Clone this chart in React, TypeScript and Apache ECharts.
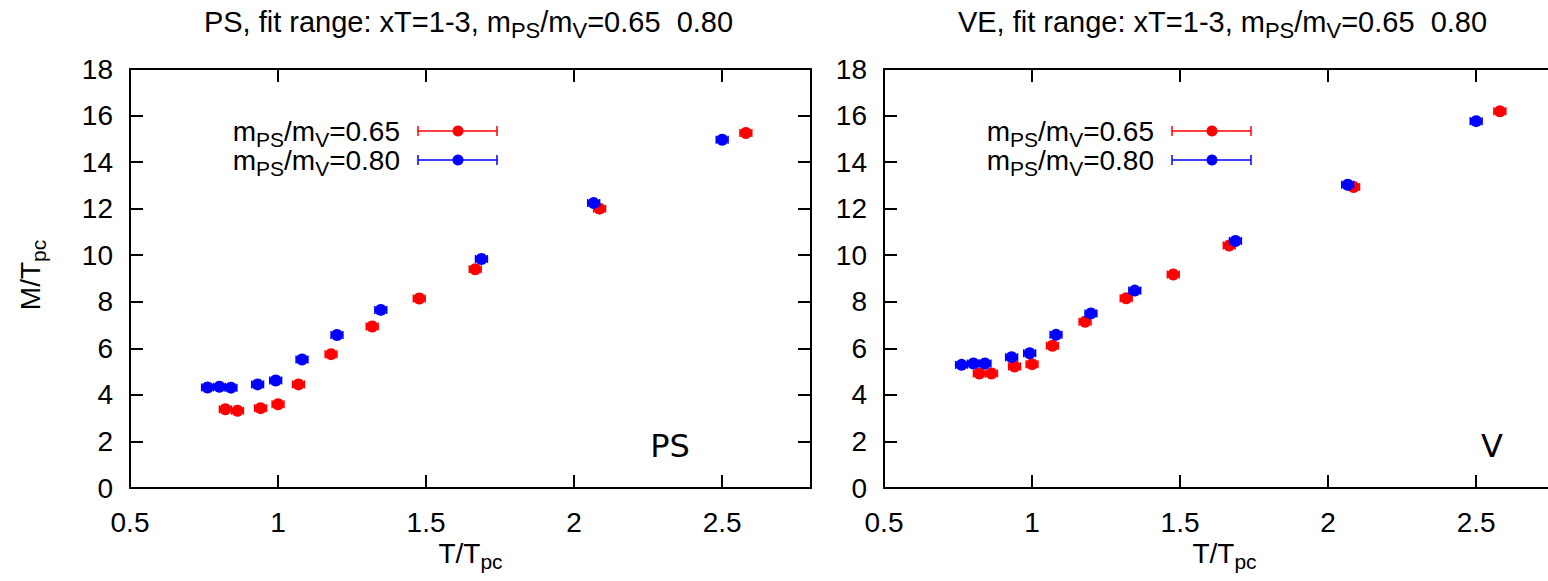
import React, { useEffect, useRef } from "react";
import * as echarts from "echarts";

// temperatures T/Tpc
const T_065 = [0.822, 0.863, 0.941, 1.0, 1.069, 1.179, 1.318, 1.477, 1.666, 2.086, 2.58];
const T_080 = [0.762, 0.802, 0.841, 0.931, 0.992, 1.081, 1.199, 1.347, 1.687, 2.066, 2.5];
// horizontal / vertical error sizes
const TERR_065 = [0.02, 0.02, 0.02, 0.02, 0.02, 0.02, 0.02, 0.02, 0.02, 0.02, 0.02];
const TERR_080 = [0.02, 0.02, 0.02, 0.02, 0.02, 0.02, 0.02, 0.02, 0.02, 0.02, 0.02];
// PS channel M/Tpc
const PS_065 = [3.38, 3.32, 3.43, 3.6, 4.45, 5.75, 6.94, 8.14, 9.4, 12.0, 15.25];
const PS_080 = [4.32, 4.35, 4.31, 4.45, 4.62, 5.52, 6.57, 7.65, 9.84, 12.24, 14.96];
const PSERR_065 = [0.08, 0.08, 0.1, 0.1, 0.08, 0.08, 0.06, 0.06, 0.06, 0.06, 0.06];
const PSERR_080 = [0.05, 0.05, 0.05, 0.05, 0.05, 0.05, 0.05, 0.05, 0.05, 0.05, 0.05];
// V channel M/Tpc
const V_065 = [4.92, 4.92, 5.22, 5.32, 6.11, 7.14, 8.15, 9.17, 10.42, 12.93, 16.18];
const V_080 = [5.29, 5.35, 5.35, 5.62, 5.79, 6.58, 7.5, 8.48, 10.61, 13.03, 15.76];
const VERR_065 = [0.1, 0.1, 0.15, 0.15, 0.1, 0.08, 0.06, 0.06, 0.06, 0.06, 0.06];
const VERR_080 = [0.05, 0.05, 0.05, 0.05, 0.05, 0.05, 0.05, 0.05, 0.05, 0.05, 0.05];

const TITLES = [
  "PS, fit range: xT=1-3, m{s|PS}/m{s|V}=0.65  0.80",
  "VE, fit range: xT=1-3, m{s|PS}/m{s|V}=0.65  0.80",
];
const TAGS = ["PS", "V"];
const LEGEND = ["m{s|PS}/m{s|V}=0.65", "m{s|PS}/m{s|V}=0.80"];
const X_NAME = "T/T{s|pc}";
const Y_NAME = "M/T{s|pc}";

const RED = "#ff0000";
const BLUE = "#0000ff";
const FONT = "'Liberation Sans', Arial, Helvetica, sans-serif";
const FS = 28;
const RICH = { s: { fontSize: 21, fontFamily: FONT, color: "#000", padding: [16, 0, 0, 0] } };
const RICH_T = { s: { fontSize: 22, fontFamily: FONT, color: "#000", padding: [16, 0, 0, 0] } };

const GRID_LEFTS = [130, 884];
const TAG_X = [670, 1492];
const GRID_TOP = 69;
const GRID_W = 681;
const GRID_H = 419;

function build(t: number[], m: number[], te: number[], me: number[]) {
  return t.map((x, i) => [x, m[i], te[i], me[i]]);
}

function errRender(color: string) {
  return (_params: any, api: any) => {
    const x = api.value(0);
    const y = api.value(1);
    const xe = api.value(2);
    const ye = api.value(3);
    const c = api.coord([x, y]);
    const l = api.coord([x - xe, y]);
    const r = api.coord([x + xe, y]);
    const t = api.coord([x, y + ye]);
    const b = api.coord([x, y - ye]);
    const cap = 4;
    const st = { stroke: color, lineWidth: 1.5 };
    return {
      type: "group",
      children: [
        { type: "line", shape: { x1: l[0], y1: c[1], x2: r[0], y2: c[1] }, style: st },
        { type: "line", shape: { x1: l[0], y1: c[1] - cap, x2: l[0], y2: c[1] + cap }, style: st },
        { type: "line", shape: { x1: r[0], y1: c[1] - cap, x2: r[0], y2: c[1] + cap }, style: st },
        { type: "line", shape: { x1: c[0], y1: t[1], x2: c[0], y2: b[1] }, style: st },
        { type: "line", shape: { x1: c[0] - cap, y1: t[1], x2: c[0] + cap, y2: t[1] }, style: st },
        { type: "line", shape: { x1: c[0] - cap, y1: b[1], x2: c[0] + cap, y2: b[1] }, style: st },
        { type: "circle", shape: { cx: c[0], cy: c[1], r: 6 }, style: { fill: color } },
      ],
    };
  };
}

export default function App() {
  const ref = useRef<HTMLDivElement>(null);
  useEffect(() => {
    if (!ref.current) return;
    const chart = echarts.init(ref.current, null, { renderer: "svg" });
    const line = { show: true, onZero: false, lineStyle: { color: "#000", width: 2 } };
    const tick = { show: true, inside: true, length: 13, lineStyle: { color: "#000", width: 2 } };
    const xAxis: any[] = [];
    const yAxis: any[] = [];
    const grid: any[] = [];
    const series: any[] = [];
    const graphic: any[] = [];
    const panelData = [
      [build(T_065, PS_065, TERR_065, PSERR_065), build(T_080, PS_080, TERR_080, PSERR_080)],
      [build(T_065, V_065, TERR_065, VERR_065), build(T_080, V_080, TERR_080, VERR_080)],
    ];
    GRID_LEFTS.forEach((left, p) => {
      grid.push({ left, top: GRID_TOP, width: GRID_W, height: GRID_H, outerBoundsMode: "none", containLabel: false });
      const xs = { min: 0.5, max: 2.8, interval: 0.5, type: "value", gridIndex: p, splitLine: { show: false } };
      const ys = { min: 0, max: 18, interval: 2, type: "value", gridIndex: p, splitLine: { show: false } };
      xAxis.push({
        ...xs,
        position: "bottom",
        axisLine: line,
        axisTick: tick,
        axisLabel: { color: "#000", fontSize: FS, fontFamily: FONT, margin: 20, showMaxLabel: false },
      });
      xAxis.push({ ...xs, position: "top", axisLine: line, axisTick: tick, axisLabel: { show: false } });
      yAxis.push({
        ...ys,
        position: "left",
        axisLine: line,
        axisTick: tick,
        axisLabel: { color: "#000", fontSize: FS, fontFamily: FONT, margin: 17 },
      });
      yAxis.push({ ...ys, position: "right", axisLine: line, axisTick: tick, axisLabel: { show: false } });
      const [d65, d80] = panelData[p];
      series.push({
        type: "custom",
        name: "m_PS/m_V=0.65",
        xAxisIndex: 2 * p,
        yAxisIndex: 2 * p,
        data: d65,
        encode: { x: 0, y: 1 },
        renderItem: errRender(RED),
      });
      series.push({
        type: "custom",
        name: "m_PS/m_V=0.80",
        xAxisIndex: 2 * p,
        yAxisIndex: 2 * p,
        data: d80,
        encode: { x: 0, y: 1 },
        renderItem: errRender(BLUE),
      });
      const cx = left + GRID_W / 2;
      graphic.push({
        type: "text",
        x: cx - 2,
        y: 22,
        style: { text: TITLES[p], fill: "#000", fontSize: 29, fontFamily: FONT, align: "center", verticalAlign: "middle", rich: RICH_T },
      });
      graphic.push({
        type: "text",
        x: cx,
        y: 553,
        style: { text: X_NAME, fill: "#000", fontSize: FS, fontFamily: FONT, align: "center", verticalAlign: "middle", rich: RICH },
      });
      graphic.push({
        type: "text",
        x: TAG_X[p],
        y: 446,
        style: { text: TAGS[p], fill: "#000", fontSize: 32, fontFamily: "'DejaVu Sans', sans-serif", align: "center", verticalAlign: "middle" },
      });
      [RED, BLUE].forEach((col, k) => {
        const yy = 131 + k * 29;
        graphic.push({
          type: "text",
          x: left + 270,
          y: yy,
          style: { text: LEGEND[k], fill: "#000", fontSize: FS, fontFamily: FONT, align: "right", verticalAlign: "middle", rich: RICH },
        });
        const x1 = left + 288;
        const x2 = left + 367;
        const st = { stroke: col, lineWidth: 1.5 };
        graphic.push({ type: "line", shape: { x1, y1: yy, x2, y2: yy }, style: st });
        graphic.push({ type: "line", shape: { x1, y1: yy - 5, x2: x1, y2: yy + 5 }, style: st });
        graphic.push({ type: "line", shape: { x1: x2, y1: yy - 5, x2, y2: yy + 5 }, style: st });
        graphic.push({ type: "circle", shape: { cx: left + 328, cy: yy, r: 5.5 }, style: { fill: col } });
      });
    });
    graphic.push({
      type: "text",
      x: 30,
      y: 275,
      rotation: Math.PI / 2,
      style: { text: Y_NAME, fill: "#000", fontSize: FS, fontFamily: FONT, align: "center", verticalAlign: "middle", rich: RICH },
    });
    chart.setOption({
      animation: false,
      backgroundColor: "#fff",
      grid,
      xAxis,
      yAxis,
      series,
      graphic,
    });
    return () => chart.dispose();
  }, []);
  return <div ref={ref} style={{ position: "fixed", left: 0, top: 0, width: 1548, height: 581 }} />;
}
